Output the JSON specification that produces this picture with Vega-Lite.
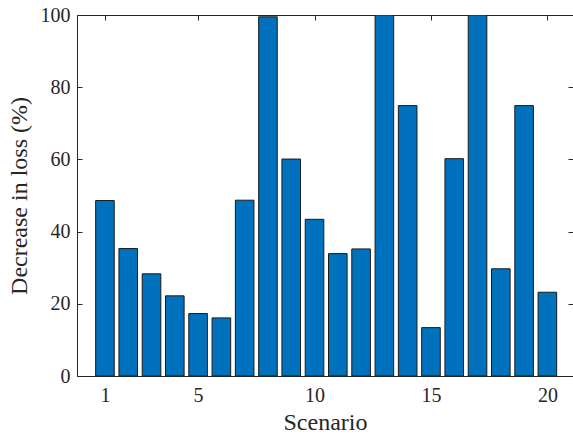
{
  "$schema": "https://vega.github.io/schema/vega-lite/v6.json",
  "autosize": {"type": "none"},
  "padding": {"left": 77, "top": 15, "right": 0, "bottom": 60},
  "width": 496,
  "height": 361,
  "background": "white",
  "config": {
    "view": {"stroke": null},
    "font": "Liberation Serif",
    "axis": {
      "grid": false,
      "domainColor": "#262626",
      "domainWidth": 1,
      "tickColor": "#262626",
      "tickWidth": 1,
      "tickSize": -5,
      "labelColor": "#262626",
      "labelFont": "Liberation Serif",
      "labelFontSize": 20,
      "titleFont": "Liberation Serif",
      "titleFontSize": 24,
      "titleFontWeight": "normal",
      "titleColor": "#262626"
    }
  },
  "data": {
    "values": [
      {"scenario": 1, "decrease": 48.6},
      {"scenario": 2, "decrease": 35.3},
      {"scenario": 3, "decrease": 28.3},
      {"scenario": 4, "decrease": 22.2},
      {"scenario": 5, "decrease": 17.3},
      {"scenario": 6, "decrease": 16.1},
      {"scenario": 7, "decrease": 48.7},
      {"scenario": 8, "decrease": 99.5},
      {"scenario": 9, "decrease": 60.1},
      {"scenario": 10, "decrease": 43.4},
      {"scenario": 11, "decrease": 33.9},
      {"scenario": 12, "decrease": 35.2},
      {"scenario": 13, "decrease": 100},
      {"scenario": 14, "decrease": 74.9},
      {"scenario": 15, "decrease": 13.4},
      {"scenario": 16, "decrease": 60.2},
      {"scenario": 17, "decrease": 100},
      {"scenario": 18, "decrease": 29.7},
      {"scenario": 19, "decrease": 74.9},
      {"scenario": 20, "decrease": 23.2}
    ]
  },
  "layer": [
    {
      "mark": {"type": "bar", "size": 18.6, "color": "#0072BD", "stroke": "#1a1a1a", "strokeWidth": 1, "clip": true},
      "encoding": {
        "x": {
          "field": "scenario", "type": "quantitative",
          "scale": {"domain": [-0.2, 21.1], "nice": false, "zero": false, "padding": 0},
          "axis": {"values": [1, 5, 10, 15, 20], "title": "Scenario", "labelPadding": 14, "titlePadding": 5}
        },
        "y": {
          "field": "decrease", "type": "quantitative",
          "scale": {"domain": [0, 100], "nice": false, "padding": 0},
          "axis": {"values": [0, 20, 40, 60, 80, 100], "title": "Decrease in loss (%)", "labelPadding": 12, "titlePadding": 9}
        }
      }
    },
    {
      "mark": {"type": "bar", "size": 18.6, "opacity": 0},
      "encoding": {
        "x": {
          "field": "scenario", "type": "quantitative",
          "scale": {"domain": [-0.2, 21.1], "nice": false, "zero": false, "padding": 0},
          "axis": {"orient": "top", "values": [1, 5, 10, 15, 20], "labels": false, "title": null}
        },
        "y": {
          "field": "decrease", "type": "quantitative",
          "scale": {"domain": [0, 100], "nice": false, "padding": 0},
          "axis": {"orient": "right", "values": [0, 20, 40, 60, 80, 100], "labels": false, "title": null}
        }
      }
    }
  ],
  "resolve": {"axis": {"x": "independent", "y": "independent"}}
}
